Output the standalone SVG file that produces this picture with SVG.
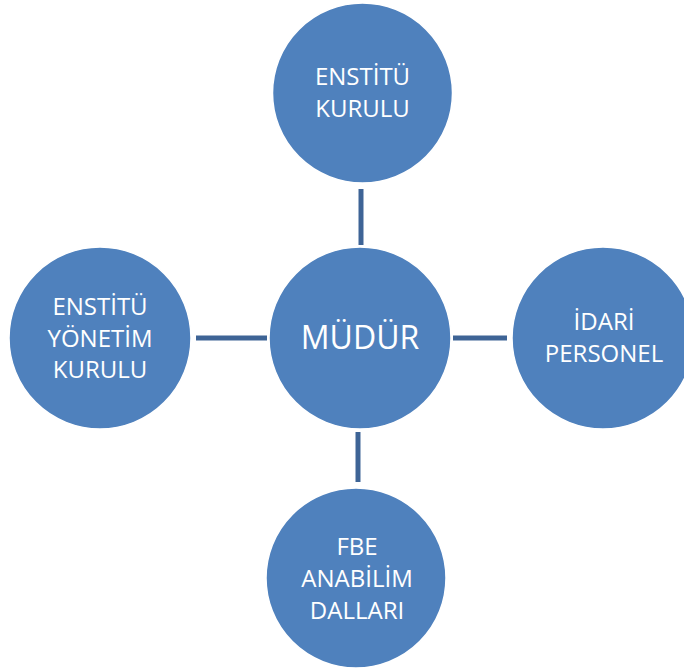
<svg xmlns="http://www.w3.org/2000/svg" width="684" height="668" viewBox="0 0 684 668">
<style>
.node circle{fill:#4F81BD;stroke:#FFFFFF;stroke-width:1.5}
.node text{fill:#FFFFFF;font-family:"Open Sans","Liberation Sans",sans-serif;font-size:24px;text-anchor:middle}
.node text.big{font-size:32px}
#connectors line{stroke:#3E6496;stroke-width:5}
</style>
<rect width="684" height="668" fill="#FFFFFF"/>
<g id="connectors">
<line x1="361" y1="189" x2="361" y2="245"/>
<line x1="196" y1="338" x2="267" y2="338"/>
<line x1="453" y1="338" x2="507" y2="338"/>
<line x1="358" y1="432" x2="358" y2="482"/>
</g>
<g id="mudur" class="node">
<circle cx="360" cy="338" r="91"/>
<text x="360" y="349" class="big">MÜDÜR</text>
</g>
<g id="enstitu-kurulu" class="node">
<circle cx="362.5" cy="93" r="90"/>
<text x="362.5" y="85">ENSTİTÜ</text>
<text x="362.5" y="117">KURULU</text>
</g>
<g id="enstitu-yonetim-kurulu" class="node">
<circle cx="100" cy="338" r="91"/>
<text x="100" y="315">ENSTİTÜ</text>
<text x="100" y="347">YÖNETİM</text>
<text x="100" y="378">KURULU</text>
</g>
<g id="idari-personel" class="node">
<circle cx="603" cy="338" r="91"/>
<text x="604" y="330">İDARİ</text>
<text x="604" y="362">PERSONEL</text>
</g>
<g id="fbe-anabilim-dallari" class="node">
<circle cx="356" cy="578" r="90"/>
<text x="357" y="555">FBE</text>
<text x="357" y="587">ANABİLİM</text>
<text x="357" y="619">DALLARI</text>
</g>
</svg>
